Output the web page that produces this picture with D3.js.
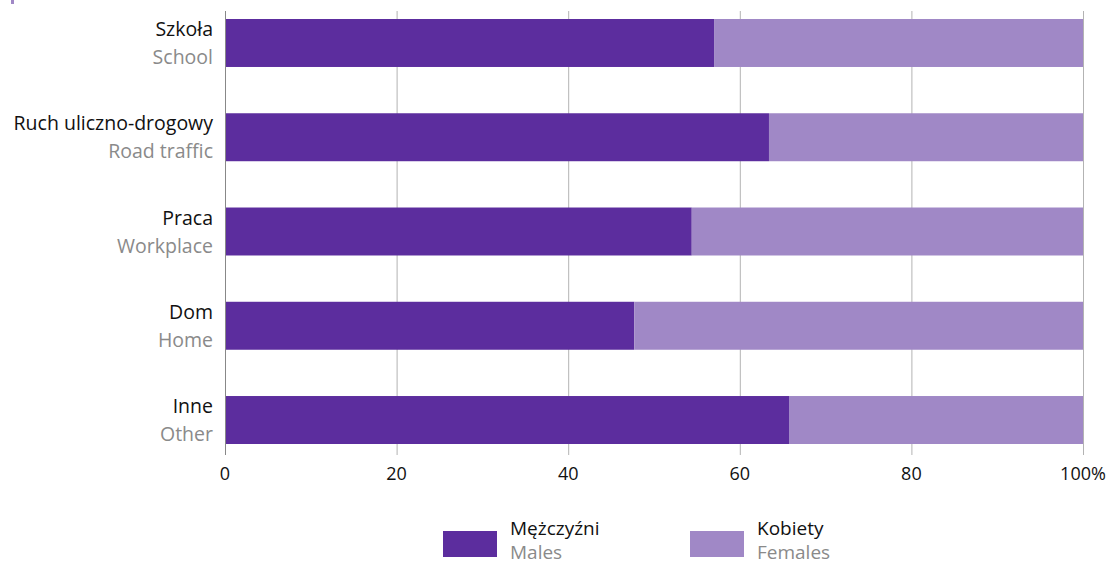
<!DOCTYPE html>
<html>
<head>
<meta charset="utf-8">
<script src="https://cdn.jsdelivr.net/npm/d3@7"></script>
<style>
  body { margin: 0; background: #fff; }
  svg text { font-family: "Open Sans", "Noto Sans", sans-serif; }
</style>
</head>
<body>
<svg id="chart" width="1109" height="564"></svg>
<script>
// data
var categoriesPl = ["Szkoła", "Ruch uliczno-drogowy", "Praca", "Dom", "Inne"];
var categoriesEn = ["School", "Road traffic", "Workplace", "Home", "Other"];
var males = [57.0, 63.4, 54.4, 47.7, 65.8];
var females = males.map(function(m) { return 100 - m; });
var xTicks = [0, 20, 40, 60, 80, 100];
var legendPl = ["Mężczyźni", "Kobiety"];
var legendEn = ["Males", "Females"];

var maleColor = "#5c2d9e", femaleColor = "#a088c6";

var svg = d3.select("#chart");

var x = d3.scaleLinear().domain([0, 100]).range([225, 1083]);
var y = d3.scaleBand().domain(categoriesPl).range([19, 444]).paddingInner(0.491).paddingOuter(0);

// tiny corner mark
svg.append("rect").attr("x", 11).attr("y", 0).attr("width", 3).attr("height", 4).attr("fill", femaleColor);

// gridlines
svg.append("g").selectAll("line")
    .data(xTicks.slice(1))
    .enter().append("line")
    .attr("x1", function(d) { return x(d) + 0.5; })
    .attr("x2", function(d) { return x(d) + 0.5; })
    .attr("y1", 11).attr("y2", 455)
    .attr("stroke", "#b3b3b3").attr("stroke-width", 1);

// bars
var rows = svg.append("g").selectAll("g")
    .data(categoriesPl)
    .enter().append("g");

rows.append("rect")
    .attr("x", x(0))
    .attr("y", function(d) { return y(d); })
    .attr("width", function(d, i) { return x(males[i]) - x(0); })
    .attr("height", y.bandwidth())
    .attr("fill", maleColor);

rows.append("rect")
    .attr("x", function(d, i) { return x(males[i]); })
    .attr("y", function(d) { return y(d); })
    .attr("width", function(d, i) { return x(100) - x(males[i]); })
    .attr("height", y.bandwidth())
    .attr("fill", femaleColor);

// axis line
svg.append("line")
    .attr("x1", x(0) + 0.5).attr("x2", x(0) + 0.5)
    .attr("y1", 11).attr("y2", 455)
    .attr("stroke", "#888").attr("stroke-width", 1);

// category labels
rows.append("text")
    .attr("x", 213)
    .attr("y", function(d) { return y(d) + 17; })
    .attr("text-anchor", "end")
    .style("font-size", "19.5px")
    .attr("fill", "#111")
    .text(function(d) { return d; });

rows.append("text")
    .attr("x", 213)
    .attr("y", function(d) { return y(d) + 45; })
    .attr("text-anchor", "end")
    .style("font-size", "19.5px")
    .attr("fill", "#8a8a8a")
    .text(function(d, i) { return categoriesEn[i]; });

// tick labels
svg.append("g").selectAll("text")
    .data(xTicks)
    .enter().append("text")
    .attr("x", function(d) { return x(d); })
    .attr("y", 480)
    .attr("text-anchor", "middle")
    .style("font-size", "18px")
    .attr("fill", "#111")
    .text(function(d) { return d === 100 ? "100%" : d; });

// legend
var legendX = [443, 690];
var legendColors = [maleColor, femaleColor];
var legend = svg.append("g").selectAll("g")
    .data(legendPl)
    .enter().append("g")
    .attr("transform", function(d, i) { return "translate(" + legendX[i] + ",0)"; });

legend.append("rect")
    .attr("x", 0).attr("y", 531)
    .attr("width", 54).attr("height", 26)
    .attr("fill", function(d, i) { return legendColors[i]; });

legend.append("text")
    .attr("x", 67).attr("y", 535)
    .style("font-size", "19px")
    .attr("fill", "#111")
    .text(function(d) { return d; });

legend.append("text")
    .attr("x", 67).attr("y", 559)
    .style("font-size", "19px")
    .attr("fill", "#8a8a8a")
    .text(function(d, i) { return legendEn[i]; });
</script>
</body>
</html>
